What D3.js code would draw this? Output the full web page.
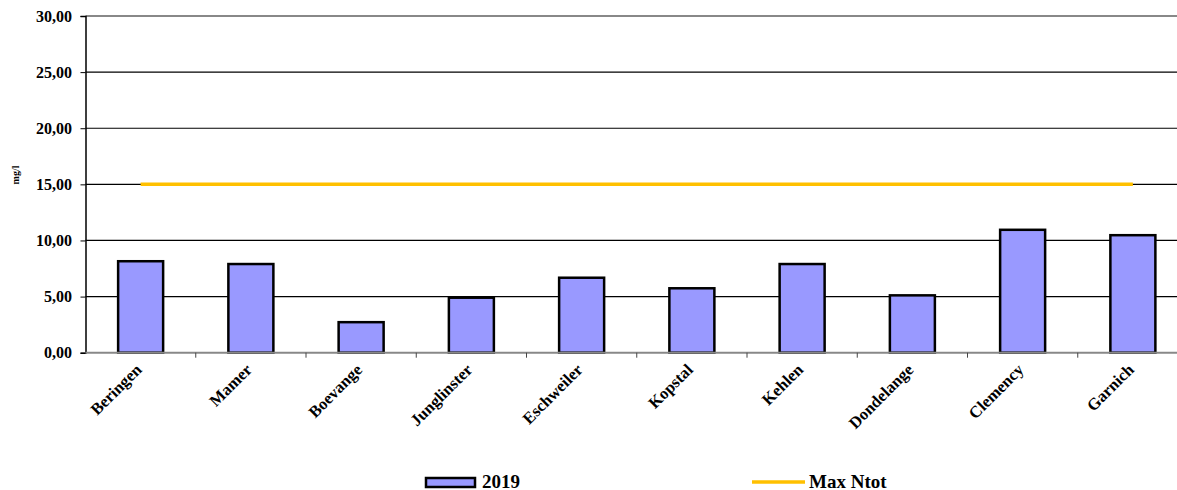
<!DOCTYPE html>
<html><head><meta charset="utf-8">
<script src="https://cdn.jsdelivr.net/npm/d3@7"></script>
<style>body{margin:0;background:#fff}svg{display:block}</style>
</head><body><svg id="c" width="1177" height="490"></svg>
<script>
const categories=["Beringen","Mamer","Boevange","Junglinster","Eschweiler","Kopstal","Kehlen","Dondelange","Clemency","Garnich"];
const values2019=[8.15,7.9,2.72,4.9,6.68,5.74,7.9,5.11,10.95,10.47];
const maxNtot=[15,15,15,15,15,15,15,15,15,15];
const yTicks=[0,5,10,15,20,25,30];
const fmt=d=>d.toFixed(2).replace(".",",");

(function(){
const FF='"Liberation Serif","Times New Roman",serif';
const svg=d3.select("#c");
const pL=85.5,pR=1188,pT=16,pB=352.7;
const x=d3.scaleBand().domain(categories).range([pL,pR]).paddingInner(0).paddingOuter(0);
const y=d3.scaleLinear().domain([0,30]).range([pB,pT]);
const bw=45;

svg.append("g").selectAll("line").data(yTicks.filter(d=>d>0)).join("line")
 .attr("x1",pL).attr("x2",pR).attr("y1",d=>y(d)).attr("y2",d=>y(d))
 .attr("stroke",d=>d===30?"#888":"#000").attr("stroke-width",d=>d===30?2:1.2);

svg.append("g").selectAll("rect").data(values2019).join("rect")
 .attr("x",(d,i)=>x(categories[i])+x.bandwidth()/2-bw/2)
 .attr("width",bw)
 .attr("y",d=>y(d)).attr("height",d=>pB-y(d))
 .attr("fill","#9999ff").attr("stroke","#000").attr("stroke-width",2.5);

const line=d3.line().x((d,i)=>x(categories[i])+x.bandwidth()/2).y(d=>y(d));
svg.append("path").datum(maxNtot).attr("d",line).attr("fill","none").attr("stroke","#ffc000").attr("stroke-width",3.5);

const ya=svg.append("g").attr("transform",`translate(${pL},0)`)
 .call(d3.axisLeft(y).tickValues(yTicks).tickFormat(fmt).tickSize(5));
ya.select(".domain").attr("stroke","#000").attr("stroke-width",1.5);
ya.selectAll(".tick line").attr("stroke","#000");
ya.selectAll("text").attr("fill","#000").attr("x",-13.5).attr("dy","0.33em")
 .style("font-family",FF).style("font-weight","bold").style("font-size","16px");

const xa=svg.append("g").attr("transform",`translate(0,${pB})`);
xa.append("line").attr("x1",pL).attr("x2",pR).attr("stroke","#888").attr("stroke-width",2);
xa.selectAll("line.t").data(categories.slice(1)).join("line").attr("class","t")
 .attr("x1",d=>x(d)).attr("x2",d=>x(d)).attr("y1",0).attr("y2",5).attr("stroke","#444");
xa.selectAll("text").data(categories).join("text")
 .attr("transform",d=>`translate(${x(d)+x.bandwidth()/2+2},${18}) rotate(-45)`)
 .attr("text-anchor","end").attr("fill","#000")
 .style("font-family",FF).style("font-weight","bold").style("font-size","16.5px").text(d=>d);

svg.append("text").attr("transform","translate(19,175) rotate(-90)").attr("text-anchor","middle")
 .style("font-family",FF).style("font-weight","bold").style("font-size","10px").text("mg/l");

svg.append("rect").attr("x",426).attr("y",478).attr("width",49).attr("height",9)
 .attr("fill","#9999ff").attr("stroke","#000").attr("stroke-width",2.5);
svg.append("text").attr("x",482).attr("y",487.5)
 .style("font-family",FF).style("font-weight","bold").style("font-size","19px").text("2019");
svg.append("line").attr("x1",752).attr("x2",805).attr("y1",482).attr("y2",482).attr("stroke","#ffc000").attr("stroke-width",3.5);
svg.append("text").attr("x",809).attr("y",487.5)
 .style("font-family",FF).style("font-weight","bold").style("font-size","19px").text("Max Ntot");
})();
</script></body></html>
